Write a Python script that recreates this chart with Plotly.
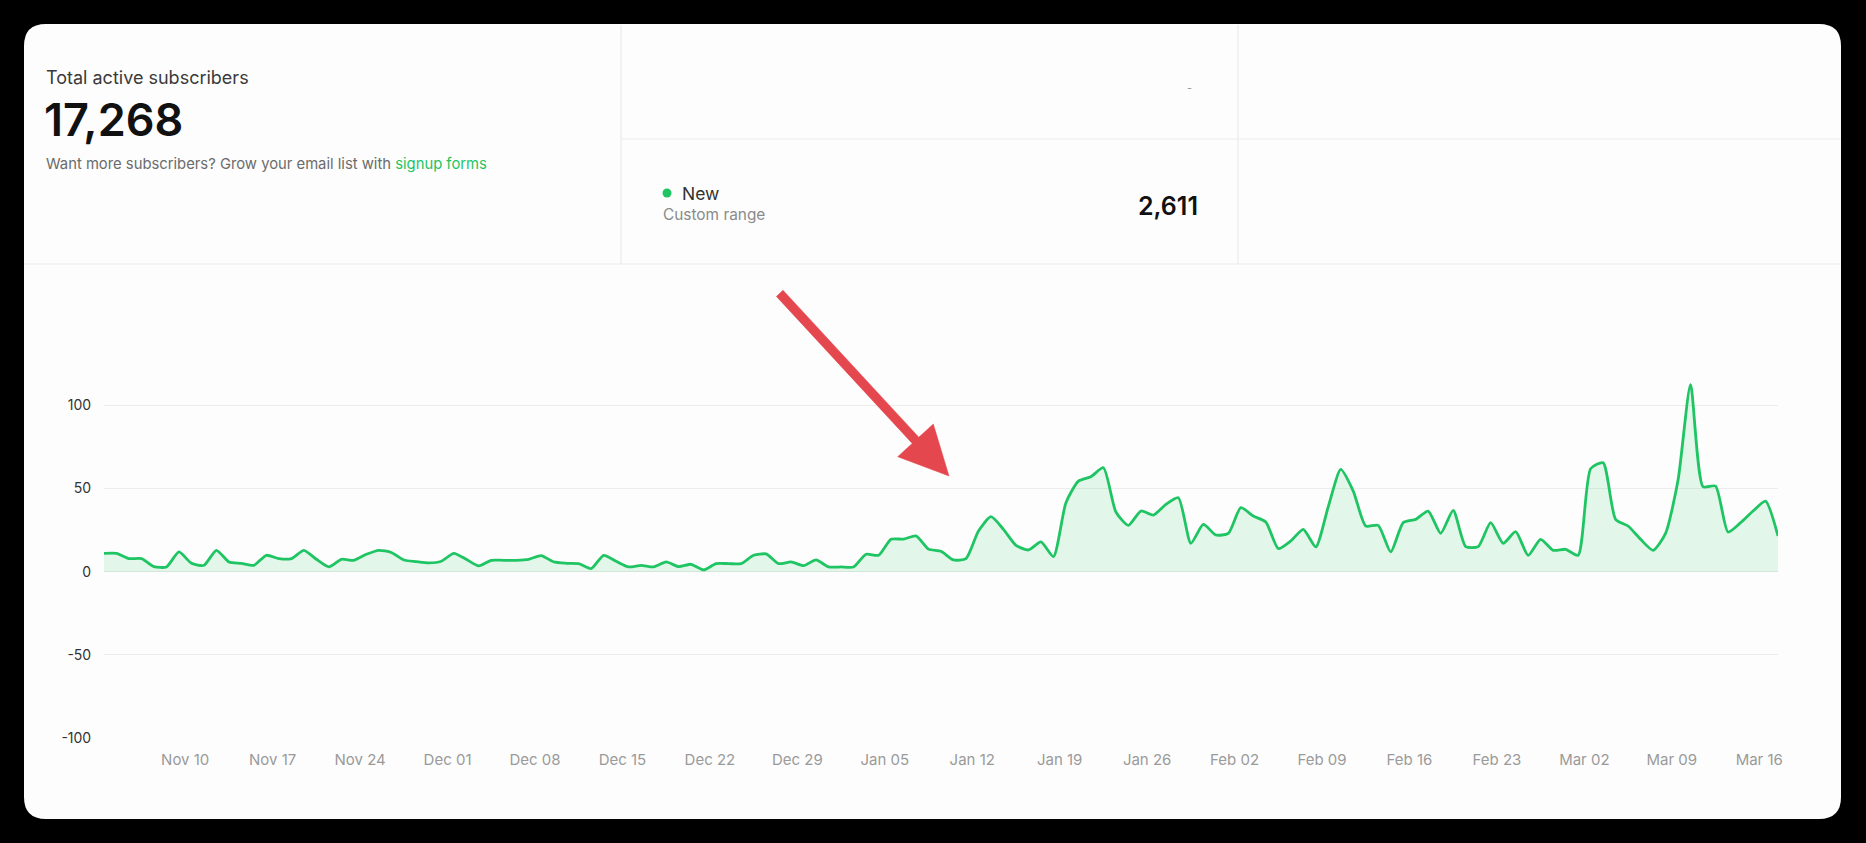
import pandas as pd
import plotly.graph_objects as go

# ---------------- data ----------------
start_date = "2024-11-03 12:00"
new_subscribers = [
    11, 11, 7.8, 7.8, 3, 2.8, 11.8, 5, 3.8, 12.8,
    5.8, 5, 3.8, 9.8, 7.8, 7.8, 12.8, 7.4, 2.8, 7.4,
    6.8, 10.4, 12.8, 11.5, 7, 6, 5.2, 6.2, 11, 7.4,
    3.4, 6.8, 6.8, 6.8, 7.4, 9.6, 5.8, 5, 4.8, 1.8,
    9.8, 6.2, 2.8, 3.8, 2.8, 5.8, 3, 4.4, 1, 4.8,
    4.8, 4.8, 9.8, 10.6, 4.8, 5.8, 3.6, 7, 2.8, 2.8,
    2.8, 10.4, 9.8, 19.5, 19.5, 21.5, 13.5, 12.2, 7, 7.8,
    24.4, 33, 25.4, 15.8, 13, 17.8, 9, 41.4, 54.4, 57,
    62.4, 35.8, 27.8, 36.4, 34, 40.4, 44.4, 17, 28.4, 22,
    23, 38.4, 33.4, 29.8, 13.8, 18.4, 25.4, 14.8, 39, 61.4,
    48.4, 27.4, 27.8, 11.8, 29.4, 31.4, 36.4, 23, 36.8, 15,
    15, 29.4, 17, 24, 9.8, 19.4, 12.8, 13.4, 9.8, 61.8,
    65.4, 31.4, 27.4, 19.4, 12.8, 23, 55, 112.4, 51, 51.4,
    23.8, 29.4, 36.4, 42.4, 21.4,
]
dates = pd.date_range(start_date, periods=len(new_subscribers), freq="D")
tick_dates = pd.date_range("2024-11-10", "2025-03-16", freq="7D")
tick_labels = [d.strftime("%b %d") for d in tick_dates]
y_tickvals = [-100, -50, 0, 50, 100, 150]
y_ticktext = ["-100", "-50", "0", "50", "100", ""]

total_active = "17,268"
new_count = "2,611"

# ---------------- geometry helpers (pixel -> paper) ----------------
W, H = 1866, 843
ML, MR, MT, MB = 104, 88, 322, 105
PW, PH = W - ML - MR, H - MT - MB


def X(px):
    return (px - ML) / PW


def Y(py):
    return (H - MB - py) / PH


def rounded_rect(x0, y0, x1, y1, r):
    pts = [
        ("M", (x0 + r, y0)), ("L", (x1 - r, y0)), ("Q", (x1, y0), (x1, y0 + r)),
        ("L", (x1, y1 - r)), ("Q", (x1, y1), (x1 - r, y1)),
        ("L", (x0 + r, y1)), ("Q", (x0, y1), (x0, y1 - r)),
        ("L", (x0, y0 + r)), ("Q", (x0, y0), (x0 + r, y0)),
    ]
    s = ""
    for cmd, *ps in pts:
        s += cmd + " " + " ".join(f"{X(a):.5f},{Y(b):.5f}" for a, b in ps) + " "
    return s + "Z"


def polygon(points):
    return "M " + " L ".join(f"{X(a):.5f},{Y(b):.5f}" for a, b in points) + " Z"


GREEN = "#1fc463"
FONT = "Inter"

fig = go.Figure()
fig.add_trace(go.Scatter(
    x=dates, y=new_subscribers, mode="lines",
    line=dict(color=GREEN, width=2.8, shape="spline", smoothing=0.6),
    fill="tozeroy", fillcolor="rgba(31,196,99,0.12)",
    hoverinfo="skip", showlegend=False,
))

shapes = []
# white card
shapes.append(dict(type="path", xref="paper", yref="paper", layer="below",
                   path=rounded_rect(24, 24, 1841, 819, 22),
                   fillcolor="#fdfdfd", line=dict(width=0)))
div = dict(color="#ebebeb", width=1.2)
shapes.append(dict(type="line", xref="paper", yref="paper", layer="below",
                   x0=X(621), x1=X(621), y0=Y(25), y1=Y(264), line=div))
shapes.append(dict(type="line", xref="paper", yref="paper", layer="below",
                   x0=X(1238), x1=X(1238), y0=Y(25), y1=Y(264), line=div))
shapes.append(dict(type="line", xref="paper", yref="paper", layer="below",
                   x0=X(621), x1=X(1841), y0=Y(139), y1=Y(139), line=div))
shapes.append(dict(type="line", xref="paper", yref="paper", layer="below",
                   x0=X(24), x1=X(1841), y0=Y(264), y1=Y(264), line=div))
# green dot next to "New"
shapes.append(dict(type="circle", xref="paper", yref="paper",
                   x0=X(662.5), x1=X(671.5), y0=Y(188.5), y1=Y(197.5),
                   fillcolor=GREEN, line=dict(width=0)))
# red arrow
arrow_pts = [(776.4, 296.4), (912.2, 443.4), (897.7, 456.7), (949, 476),
             (933.3, 424), (918.8, 437.2), (783.0, 290.2)]
shapes.append(dict(type="path", xref="paper", yref="paper", layer="above",
                   path=polygon(arrow_pts), fillcolor="#e4474e",
                   line=dict(color="#e4474e", width=0.5)))

ann = []


def text(px, py, s, size, color, xanchor="left", weight=400):
    ann.append(dict(x=X(px), y=Y(py), xref="paper", yref="paper", text=s,
                    showarrow=False, xanchor=xanchor, yanchor="middle",
                    font=dict(family=FONT, size=size, color=color, weight=weight)))


text(44, 77, "Total active subscribers", 18, "#3a3a3a")
text(42, 119, total_active, 45, "#111111", weight=600)
text(44, 164, "Want more subscribers? Grow your email list with "
     f"<span style='color:{GREEN}'>signup forms</span>", 14.8, "#6b6b6b")
text(680, 193, "New", 17.5, "#333333")
text(661, 215, "Custom range", 15.4, "#8a8a8a")
text(1200, 206, new_count, 25, "#111111", xanchor="right", weight=600)
text(1189, 88, "-", 11, "#9a9a9a", xanchor="center")

fig.update_layout(
    width=W, height=H,
    margin=dict(l=ML, r=MR, t=MT, b=MB),
    paper_bgcolor="#000000", plot_bgcolor="rgba(0,0,0,0)",
    font=dict(family=FONT),
    shapes=shapes, annotations=ann,
    xaxis=dict(
        type="date",
        range=[dates[0], dates[-1]],
        tickvals=list(tick_dates), ticktext=tick_labels,
        showgrid=False, zeroline=False, showline=False,
        ticks="outside", ticklen=8, tickcolor="rgba(0,0,0,0)",
        tickfont=dict(family=FONT, size=15, color="#9a9a9a"),
        fixedrange=True,
    ),
    yaxis=dict(
        range=[-100, 150],
        tickvals=y_tickvals, ticktext=y_ticktext,
        showgrid=True, gridcolor="#ececec", gridwidth=1,
        zeroline=True, zerolinecolor="#dfe8e2", zerolinewidth=1.2,
        showline=False,
        ticks="outside", ticklen=9, tickcolor="rgba(0,0,0,0)",
        tickfont=dict(family=FONT, size=14, color="#333333"),
        fixedrange=True,
    ),
)

fig.write_html(
    "out.html",
    config={"displayModeBar": False},
    post_script="document.body.style.margin='0';document.body.style.overflow='hidden';",
)
